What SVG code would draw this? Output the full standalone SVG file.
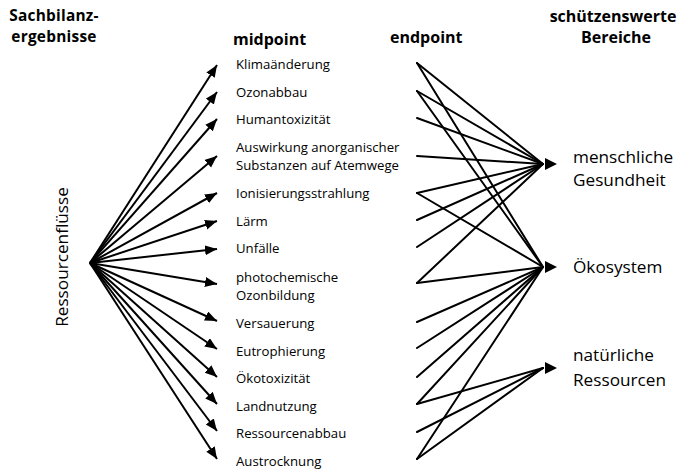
<svg xmlns="http://www.w3.org/2000/svg" width="686" height="471" viewBox="0 0 686 471">
  <style>
    .hdr { font-family: "Open Sans", "Liberation Sans", sans-serif; font-weight: bold; font-size: 16px; fill: #000; }
    .hdr.tight { font-size: 15.4px; letter-spacing: 0.25px; }
    .mid { font-family: "Open Sans", "Liberation Sans", sans-serif; font-size: 13.2px; fill: #000; }
    .big { font-family: "Open Sans", "Liberation Sans", sans-serif; font-size: 17.2px; fill: #000; }
    .arrow { stroke: #000; stroke-width: 2; fill: none; marker-end: url(#head); }
    .link { stroke: #000; stroke-width: 2; fill: none; stroke-linecap: round; }
    .tip { fill: #000; }
  </style>
  <defs>
    <marker id="head" markerUnits="userSpaceOnUse" markerWidth="14" markerHeight="12" refX="12" refY="5" orient="auto">
      <path d="M0,0 L12,5 L0,10 Z" fill="#000"/>
    </marker>
  </defs>

  <!-- column headings -->
  <g id="headings">
    <text class="hdr tight" text-anchor="middle"><tspan x="54" y="20.5">Sachbilanz-</tspan><tspan x="54" y="41.5">ergebnisse</tspan></text>
    <text class="hdr" x="233" y="45">midpoint</text>
    <text class="hdr" x="390" y="43">endpoint</text>
    <text class="hdr" text-anchor="middle"><tspan x="613" y="22">schützenswerte</tspan><tspan x="616" y="43">Bereiche</tspan></text>
  </g>

  <!-- inventory source -->
  <g id="source">
    <text class="big" transform="translate(68,257) rotate(-90)" text-anchor="middle">Ressourcenflüsse</text>
  </g>

  <!-- midpoint categories -->
  <g id="klima"><text class="mid" x="236" y="69">Klimaänderung</text></g>
  <g id="ozonabbau"><text class="mid" x="236" y="97">Ozonabbau</text></g>
  <g id="humantox"><text class="mid" x="236" y="124">Humantoxizität</text></g>
  <g id="atemwege">
    <text class="mid"><tspan x="236" y="152">Auswirkung anorganischer</tspan><tspan x="236" y="170">Substanzen auf Atemwege</tspan></text>
  </g>
  <g id="ionisierung"><text class="mid" x="236" y="198">Ionisierungsstrahlung</text></g>
  <g id="laerm"><text class="mid" x="236" y="226">Lärm</text></g>
  <g id="unfaelle"><text class="mid" x="236" y="253">Unfälle</text></g>
  <g id="photochem">
    <text class="mid"><tspan x="236" y="282">photochemische</tspan><tspan x="236" y="300">Ozonbildung</tspan></text>
  </g>
  <g id="versauerung"><text class="mid" x="236" y="328">Versauerung</text></g>
  <g id="eutrophierung"><text class="mid" x="236" y="356">Eutrophierung</text></g>
  <g id="oekotox"><text class="mid" x="236" y="383">Ökotoxizität</text></g>
  <g id="landnutzung"><text class="mid" x="236" y="411">Landnutzung</text></g>
  <g id="ressourcenabbau"><text class="mid" x="236" y="438">Ressourcenabbau</text></g>
  <g id="austrocknung"><text class="mid" x="236" y="466">Austrocknung</text></g>

  <!-- areas of protection -->
  <g id="gesundheit">
    <polygon class="tip" points="545,158 557,164 545,170"/>
    <text class="big"><tspan x="573" y="163">menschliche</tspan><tspan x="573" y="186">Gesundheit</tspan></text>
  </g>
  <g id="oekosystem">
    <polygon class="tip" points="545,261 557,267 545,273"/>
    <text class="big" x="573" y="273">Ökosystem</text>
  </g>
  <g id="ressourcen">
    <polygon class="tip" points="545,362 557,368 545,374"/>
    <text class="big"><tspan x="573" y="361">natürliche</tspan><tspan x="573" y="386">Ressourcen</tspan></text>
  </g>

  <g id="connectors">
    <!-- inventory to midpoints -->
    <line class="arrow" x1="90" y1="263" x2="217" y2="65"/>
    <line class="arrow" x1="90" y1="263" x2="217" y2="92"/>
    <line class="arrow" x1="90" y1="263" x2="217" y2="119"/>
    <line class="arrow" x1="90" y1="263" x2="217" y2="156"/>
    <line class="arrow" x1="90" y1="263" x2="217" y2="193"/>
    <line class="arrow" x1="90" y1="263" x2="217" y2="221"/>
    <line class="arrow" x1="90" y1="263" x2="217" y2="249"/>
    <line class="arrow" x1="90" y1="263" x2="217" y2="284"/>
    <line class="arrow" x1="90" y1="263" x2="217" y2="321"/>
    <line class="arrow" x1="90" y1="263" x2="217" y2="349"/>
    <line class="arrow" x1="90" y1="263" x2="217" y2="377"/>
    <line class="arrow" x1="90" y1="263" x2="217" y2="404"/>
    <line class="arrow" x1="90" y1="263" x2="217" y2="431"/>
    <line class="arrow" x1="90" y1="263" x2="217" y2="459"/>

    <!-- midpoints to human health -->
    <line class="link" x1="417" y1="63" x2="543" y2="164"/>
    <line class="link" x1="417" y1="91" x2="543" y2="164"/>
    <line class="link" x1="417" y1="118" x2="543" y2="164"/>
    <line class="link" x1="417" y1="156" x2="543" y2="164"/>
    <line class="link" x1="417" y1="193" x2="543" y2="164"/>
    <line class="link" x1="417" y1="220" x2="543" y2="164"/>
    <line class="link" x1="417" y1="247" x2="543" y2="164"/>
    <line class="link" x1="417" y1="283" x2="543" y2="164"/>

    <!-- midpoints to ecosystems -->
    <line class="link" x1="417" y1="63" x2="543" y2="267"/>
    <line class="link" x1="417" y1="91" x2="543" y2="267"/>
    <line class="link" x1="417" y1="193" x2="543" y2="267"/>
    <line class="link" x1="417" y1="283" x2="543" y2="267"/>
    <line class="link" x1="417" y1="322" x2="543" y2="267"/>
    <line class="link" x1="417" y1="348" x2="543" y2="267"/>
    <line class="link" x1="417" y1="377" x2="543" y2="267"/>
    <line class="link" x1="417" y1="404" x2="543" y2="267"/>
    <line class="link" x1="417" y1="459" x2="543" y2="267"/>

    <!-- midpoints to natural resources -->
    <line class="link" x1="417" y1="404" x2="543" y2="368"/>
    <line class="link" x1="417" y1="432" x2="543" y2="368"/>
    <line class="link" x1="417" y1="459" x2="543" y2="368"/>
  </g>
</svg>
